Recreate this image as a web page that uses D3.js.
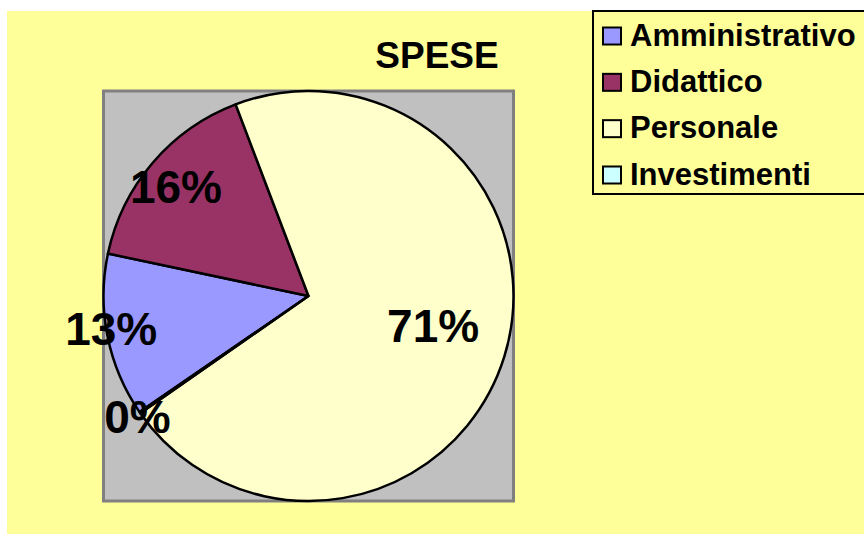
<!DOCTYPE html>
<html>
<head>
<meta charset="utf-8">
<script src="https://cdn.jsdelivr.net/npm/d3@7"></script>
<style>
  html, body { margin: 0; padding: 0; background: #ffffff; }
  svg { display: block; }
</style>
</head>
<body>
<script>
// ---- data ----
const categories = ["Amministrativo", "Didattico", "Personale", "Investimenti"];
const values = [12.9, 15.9, 71.1, 0.1];
const colors = ["#9999FF", "#993366", "#FFFFCC", "#CCFFFF"];
const title = "SPESE";

// ---- layout ----
const W = 864, H = 534;
const font = "'Liberation Sans', Arial, sans-serif";
const svg = d3.select("body").append("svg").attr("width", W).attr("height", H);

// chart area background
svg.append("rect").attr("x", 7).attr("y", 11).attr("width", W - 7).attr("height", H - 11)
  .attr("fill", "#FFFF99");

// plot area
svg.append("rect").attr("x", 103.5).attr("y", 91).attr("width", 410).attr("height", 410)
  .attr("fill", "#C0C0C0").attr("stroke", "#808080").attr("stroke-width", 3);

// title
svg.append("text").attr("x", 437).attr("y", 68).attr("text-anchor", "middle")
  .attr("font-family", font).attr("font-weight", "bold").attr("font-size", 37)
  .attr("fill", "#000").text(title);

// pie
const cx = 308.5, cy = 296, R = 205;
const total = d3.sum(values);
const pie = d3.pie().sort(null).value(d => d.v)
  .startAngle(235.5 * Math.PI / 180).endAngle((235.5 + 360) * Math.PI / 180);
const data = categories.map((c, i) => ({ c, v: values[i], col: colors[i] }));
const arcs = pie(data);
const arc = d3.arc().innerRadius(0).outerRadius(R);
const g = svg.append("g").attr("transform", `translate(${cx},${cy})`);
g.selectAll("path").data(arcs).join("path")
  .attr("d", arc).attr("fill", d => d.data.col)
  .attr("stroke", "#000").attr("stroke-width", 2.5).attr("stroke-linejoin", "round");

// labels (radial distance as fraction of radius, per slice)
const labelRadius = [0.975, 0.84, 0.625, 1.02];
const labelAngleShift = [2.0, -0.9, -3.7, -0.4]; // degrees
g.selectAll("text.lbl").data(arcs).join("text").attr("class", "lbl")
  .each(function (d, i) {
    const a = (d.startAngle + d.endAngle) / 2 + labelAngleShift[i] * Math.PI / 180;
    const r = R * labelRadius[i];
    d3.select(this).attr("x", r * Math.sin(a)).attr("y", -r * Math.cos(a));
  })
  .attr("dy", "0.36em").attr("text-anchor", "middle")
  .attr("font-family", font).attr("font-weight", "bold").attr("font-size", 46)
  .attr("fill", "#000")
  .text(d => Math.round(d.data.v / total * 100) + "%");

// legend
svg.append("rect").attr("x", 593).attr("y", 11).attr("width", 320).attr("height", 183)
  .attr("fill", "#FFFF99").attr("stroke", "#000").attr("stroke-width", 2);
const lg = svg.append("g");
const rowY = d3.scalePoint().domain(categories).range([45.5, 184.5]);
categories.forEach((c, i) => {
  const y = rowY(c);
  lg.append("rect").attr("x", 603).attr("y", y - 18).attr("width", 18).attr("height", 17)
    .attr("fill", colors[i]).attr("stroke", "#000").attr("stroke-width", 2);
  lg.append("text").attr("x", 630).attr("y", y)
    .attr("font-family", font).attr("font-weight", "bold").attr("font-size", 31)
    .attr("fill", "#000").text(c);
});
</script>
</body>
</html>
